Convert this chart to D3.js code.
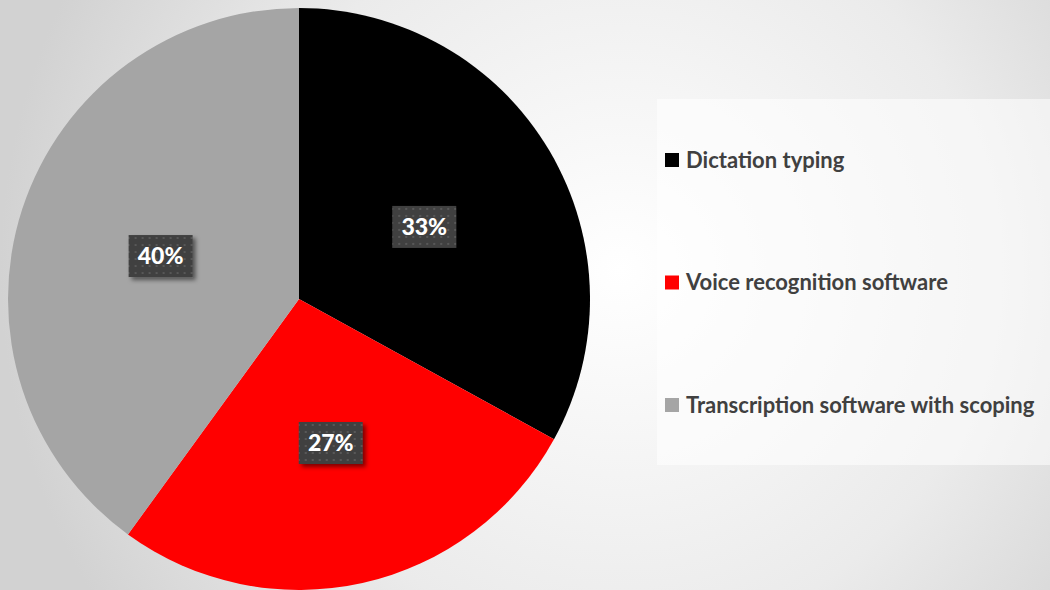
<!DOCTYPE html>
<html><head><meta charset="utf-8">
<script src="https://cdn.jsdelivr.net/npm/d3@7"></script>
<style>html,body{margin:0;padding:0;overflow:hidden;}svg{display:block;}</style>
</head><body>
<svg id="chart" width="1050" height="590"></svg>
<script>
const categories = ["Dictation typing", "Voice recognition software", "Transcription software with scoping"];
const values = [33, 27, 40];
const labels = ["33%", "27%", "40%"];
const colors = ["#000000", "#ff0000", "#a5a5a5"];

const svg = d3.select("#chart");
const defs = svg.append("defs");
const bg = defs.append("radialGradient").attr("id", "bg")
  .attr("gradientUnits", "userSpaceOnUse").attr("cx", 620).attr("cy", 270).attr("r", 620);
bg.append("stop").attr("offset", "0%").attr("stop-color", "#ffffff");
bg.append("stop").attr("offset", "60%").attr("stop-color", "#ebebeb");
bg.append("stop").attr("offset", "100%").attr("stop-color", "#d2d2d2");
svg.append("rect").attr("width", 1050).attr("height", 590).attr("fill", "url(#bg)");

const pat = defs.append("pattern").attr("id", "dots").attr("patternUnits", "userSpaceOnUse")
  .attr("width", 7).attr("height", 7);
pat.append("rect").attr("width", 7).attr("height", 7).attr("fill", "#404040");
pat.append("rect").attr("x", 2).attr("y", 2).attr("width", 2).attr("height", 2).attr("fill", "#585858");

const sh = defs.append("filter").attr("id", "shadow").attr("x", "-30%").attr("y", "-30%").attr("width", "160%").attr("height", "160%");
sh.append("feDropShadow").attr("dx", 3).attr("dy", 3).attr("stdDeviation", 2).attr("flood-color", "#000").attr("flood-opacity", 0.5);

const cx = 299, cy = 299, R = 291;
const pie = d3.pie().sort(null).value(d => d)(values);
const arc = d3.arc().innerRadius(0).outerRadius(R);
const labelArc = d3.arc().innerRadius(R * 0.5).outerRadius(R * 0.5);
const g = svg.append("g").attr("transform", `translate(${cx},${cy})`);
g.selectAll("path").data(pie).join("path").attr("d", arc).attr("fill", (d, i) => colors[i]);

const lg = g.selectAll("g.lab").data(pie).join("g").attr("class", "lab")
  .attr("transform", d => { const c = labelArc.centroid(d); return `translate(${c[0]},${c[1] + 2})`; });
lg.append("rect").attr("x", -32).attr("y", -21).attr("width", 64).attr("height", 42)
  .attr("fill", "url(#dots)").attr("filter", "url(#shadow)");
lg.append("text").text((d, i) => labels[i]).attr("text-anchor", "middle").attr("dy", "0.36em")
  .attr("fill", "#fff").attr("font-family", "Lato, 'Open Sans', sans-serif").attr("font-weight", "900")
  .attr("font-size", 23);

// legend
svg.append("rect").attr("x", 657).attr("y", 99).attr("width", 393).attr("height", 366)
  .attr("fill", "#ffffff").attr("fill-opacity", 0.55);
const ly = d3.scalePoint().domain(categories).range([160, 405]);
const leg = svg.selectAll("g.leg").data(categories).join("g").attr("class", "leg")
  .attr("transform", d => `translate(665,${ly(d)})`);
leg.append("rect").attr("x", 0).attr("y", -7).attr("width", 14).attr("height", 14)
  .attr("fill", (d, i) => colors[i]);
leg.append("text").text(d => d).attr("x", 21).attr("dy", "0.36em").attr("fill", "#404040")
  .attr("font-family", "Lato, 'Open Sans', sans-serif").attr("font-weight", "bold").attr("font-size", 22);
</script>
</body></html>
